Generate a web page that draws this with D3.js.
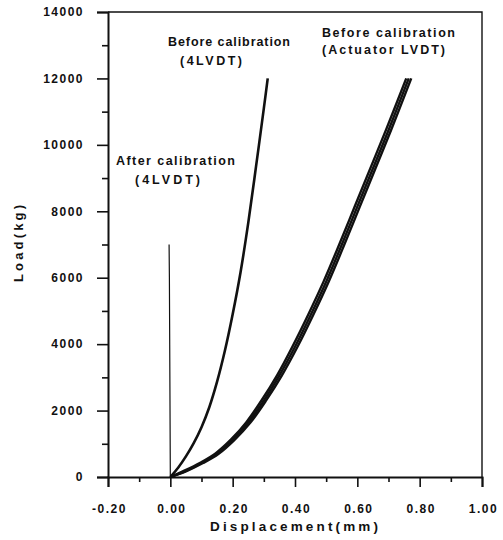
<!DOCTYPE html>
<html><head><meta charset="utf-8">
<script src="https://cdn.jsdelivr.net/npm/d3@7"></script>
<style>
html,body{margin:0;padding:0;background:#fff;}
text{font-family:"Liberation Sans",Arial,sans-serif;font-weight:bold;fill:#111;}
</style></head>
<body>
<svg id="chart" width="503" height="540"></svg>
<script>
// ---- data ----
const xTicks = [-0.2, 0, 0.2, 0.4, 0.6, 0.8, 1.0];
const xTickLabels = ["-0.20", "0.00", "0.20", "0.40", "0.60", "0.80", "1.00"];
const xMinorTicks = [-0.1, 0.1, 0.3, 0.5, 0.7, 0.9];
const yTicks = [0, 2000, 4000, 6000, 8000, 10000, 12000, 14000];
const yTickLabels = ["0", "2000", "4000", "6000", "8000", "10000", "12000", "14000"];
const yMinorTicks = [1000, 3000, 5000, 7000, 9000, 11000, 13000];

// After calibration (4LVDT): [displacement mm, load kg]
const afterCal4LVDT = [[0, 0], [-0.001, 2000], [-0.002, 4000], [-0.003, 6000], [-0.004, 7000]];
// Before calibration (4LVDT)
const beforeCal4LVDT = [[0, 0], [0.025, 280], [0.05, 620], [0.075, 1020], [0.10, 1500], [0.125, 2100],
  [0.15, 2870], [0.175, 3800], [0.20, 4900], [0.225, 6150], [0.25, 7650], [0.275, 9350], [0.30, 11100], [0.3125, 12000]];
// Before calibration (Actuator LVDT) - several overlapping load cycles
const beforeCalActuator1 = [[0, 0], [0.05, 180], [0.10, 420], [0.15, 700], [0.20, 1120], [0.25, 1640],
  [0.30, 2300], [0.35, 3060], [0.40, 3920], [0.45, 4870], [0.50, 5880], [0.55, 6990], [0.60, 8140],
  [0.65, 9290], [0.70, 10440], [0.765, 12000]];
const beforeCalActuator2 = [[0, 0], [0.05, 170], [0.105, 420], [0.155, 700], [0.206, 1120], [0.257, 1640],
  [0.307, 2300], [0.358, 3060], [0.408, 3920], [0.458, 4870], [0.508, 5880], [0.558, 6990], [0.608, 8140],
  [0.658, 9290], [0.708, 10440], [0.773, 12000]];
const beforeCalActuator3 = [[0, 0], [0.045, 190], [0.096, 430], [0.145, 710], [0.195, 1130], [0.244, 1650],
  [0.293, 2310], [0.343, 3070], [0.392, 3930], [0.442, 4880], [0.492, 5890], [0.542, 7000], [0.592, 8150],
  [0.642, 9300], [0.692, 10450], [0.757, 12000]];

// ---- layout ----
const svg = d3.select("#chart");
const L = 108, T = 12, R = 482, B = 477;
const x = d3.scaleLinear().domain([-0.2, 1.0]).range([L, R]);
const y = d3.scaleLinear().domain([0, 14000]).range([B, T]);

// frame (top and right)
svg.append("path").attr("d", `M${L},${T}H${R}V${B}`).attr("fill", "none")
  .attr("stroke", "#111").attr("stroke-width", 1.4);

// y axis
const yAx = svg.append("g").attr("transform", `translate(${L},0)`)
  .call(d3.axisLeft(y).tickValues(yTicks).tickSize(11).tickPadding(13)
    .tickFormat((d, i) => yTickLabels[i]));
svg.append("g").attr("transform", `translate(${L},0)`)
  .call(d3.axisLeft(y).tickValues(yMinorTicks).tickSize(6).tickFormat(""))
  .select(".domain").remove();
// x axis
const xAx = svg.append("g").attr("transform", `translate(0,${B})`)
  .call(d3.axisBottom(x).tickValues(xTicks).tickSize(10).tickPadding(17)
    .tickFormat((d, i) => xTickLabels[i]));
svg.append("g").attr("transform", `translate(0,${B})`)
  .call(d3.axisBottom(x).tickValues(xMinorTicks).tickSize(5).tickFormat(""))
  .select(".domain").remove();

svg.selectAll(".domain").attr("stroke", "#111").attr("stroke-width", 2);
svg.selectAll(".tick line").attr("stroke", "#111").attr("stroke-width", 1.6);
svg.selectAll(".tick text").attr("font-size", 12).attr("letter-spacing", 1.5)
  .attr("font-family", "Liberation Sans, Arial, sans-serif").attr("font-weight", "bold").attr("fill", "#111");
xAx.selectAll(".tick text").attr("dx", 1);

// axis titles
svg.append("text").attr("x", 210).attr("y", 531).attr("textLength", 168).attr("lengthAdjust", "spacing")
  .attr("font-size", 13.5).text("Displacement(mm)");
svg.append("text").attr("transform", `translate(23,282) rotate(-90)`)
  .attr("textLength", 77).attr("lengthAdjust", "spacing")
  .attr("font-size", 13).text("Load(kg)");

// curves
const line = d3.line().x(d => x(d[0])).y(d => y(d[1]));
svg.append("path").datum(afterCal4LVDT).attr("d", line).attr("fill", "none")
  .attr("stroke", "#111").attr("stroke-width", 1.2);
const smooth = d3.line().x(d => x(d[0])).y(d => y(d[1])).curve(d3.curveCatmullRom);
svg.append("path").datum(beforeCal4LVDT).attr("d", smooth).attr("fill", "none")
  .attr("stroke", "#111").attr("stroke-width", 2.6);
[beforeCalActuator1, beforeCalActuator2, beforeCalActuator3].forEach(s => {
  svg.append("path").datum(s).attr("d", smooth).attr("fill", "none")
    .attr("stroke", "#111").attr("stroke-width", 2.4);
});

// annotations: [text, x, baseline, width]
const notes = [
  ["Before calibration", 168, 46, 122], ["(4LVDT)", 180, 65, 62],
  ["Before calibration", 322, 37, 133], ["(Actuator LVDT)", 322, 54, 123],
  ["After calibration", 116, 165, 119], ["(4LVDT)", 135, 184, 65]
];
notes.forEach(n => svg.append("text").attr("x", n[1]).attr("y", n[2])
  .attr("textLength", n[3]).attr("lengthAdjust", "spacing")
  .attr("font-size", 12.5).text(n[0]));
</script>
</body></html>
